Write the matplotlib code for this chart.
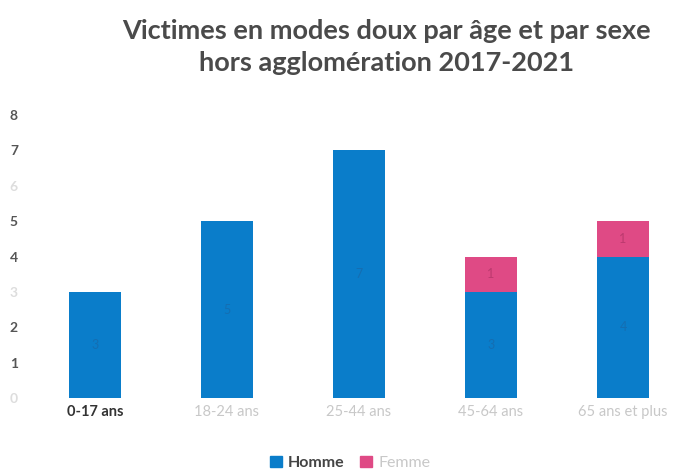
import matplotlib
matplotlib.use("Agg")
import matplotlib.pyplot as plt
from matplotlib.patches import Patch

categories = ["0-17 ans", "18-24 ans", "25-44 ans", "45-64 ans", "65 ans et plus"]
homme = [3, 5, 7, 3, 4]
femme = [0, 0, 0, 1, 1]
yticks = [0, 1, 2, 3, 4, 5, 6, 7, 8]

blue = "#0a7dca"
pink = "#df4a85"

plt.rcParams['font.family'] = ['Lato', 'DejaVu Sans']
fig = plt.figure(figsize=(6.8, 4.75), dpi=100)
ax = fig.add_axes([29/680, 1-398/475, 651/680, (398-115)/475])

x = list(range(len(categories)))
w = 0.4
ax.bar(x, homme, width=w, color=blue)
ax.bar(x, femme, width=w, bottom=homme, color=pink)

for i in x:
    ax.text(i, homme[i]/2, str(homme[i]), ha='center', va='center', color='#1f5f9a', fontsize=9, alpha=0.5)
    if femme[i]:
        ax.text(i, homme[i] + femme[i]/2, str(femme[i]), ha='center', va='center', color='#9a2a58', fontsize=9, alpha=0.5)

ax.set_xlim(-0.5, -0.5 + 651/132)
ax.set_ylim(0, 8)
for s in ax.spines.values():
    s.set_visible(False)
ax.set_yticks(yticks)
ax.set_yticklabels([str(v) for v in yticks], fontsize=10, fontweight='bold', color='#555555')
faint_y = {0, 3, 6}
for t, v in zip(ax.get_yticklabels(), yticks):
    if v in faint_y:
        t.set_color('#dddddd')
ax.tick_params(axis='y', length=0, pad=8)
ax.set_xticks(x)
ax.set_xticklabels(categories, fontsize=10.5)
for j, t in enumerate(ax.get_xticklabels()):
    if j == 0:
        t.set_color('#333333')
        t.set_fontweight('bold')
    else:
        t.set_color('#c8c8c8')
ax.tick_params(axis='x', length=0, pad=5)

fig.text(0.568, 0.935, "Victimes en modes doux par âge et par sexe", ha='center', va='center',
         fontsize=19.5, fontweight='bold', color='#4a4a4a')
fig.text(0.568, 0.868, "hors agglomération 2017-2021", ha='center', va='center',
         fontsize=19.5, fontweight='bold', color='#4a4a4a')

handles = [Patch(color=blue, label='Homme'), Patch(color=pink, label='Femme')]
leg = fig.legend(handles=handles, loc='center', bbox_to_anchor=(0.515, 0.025), ncol=2, frameon=False,
                 fontsize=11.5, handlelength=0.7, handleheight=0.7, handletextpad=0.4, columnspacing=1.0)
texts = leg.get_texts()
texts[0].set_fontweight('bold')
texts[0].set_color('#444444')
texts[1].set_color('#c8c8c8')

fig.savefig("out.png", dpi=100)
